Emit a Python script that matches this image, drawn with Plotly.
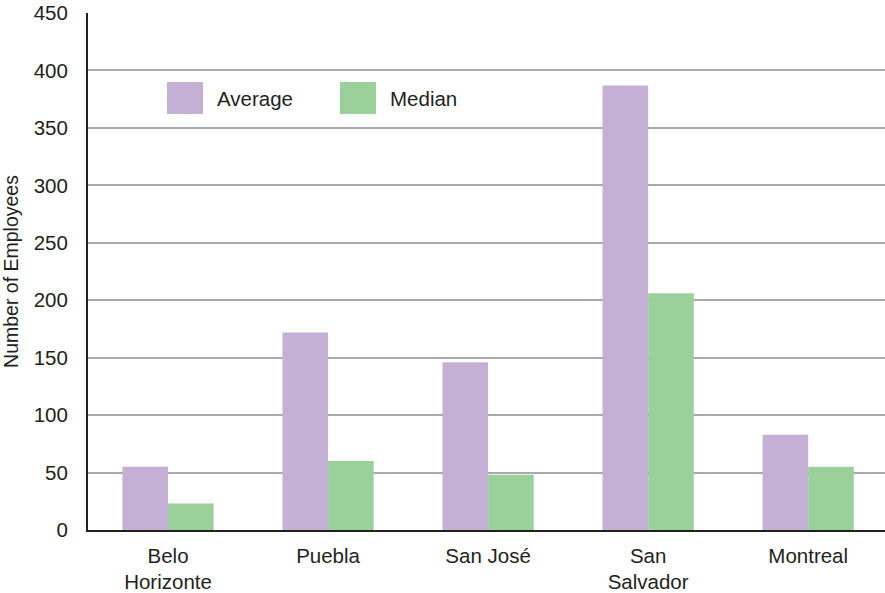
import plotly.graph_objects as go

cities = ["Belo<br>Horizonte", "Puebla", "San José", "San<br>Salvador", "Montreal"]
average = [55, 172, 146, 387, 83]
median = [23, 60, 48, 206, 55]
series_names = ["Average", "Median"]
colors = ["#c5b0d5", "#9bd09b"]
y_ticks = [0, 50, 100, 150, 200, 250, 300, 350, 400, 450]

font = dict(family="Liberation Sans, Arial, sans-serif", size=20.5, color="#231f20")

fig = go.Figure()
for name, vals, col in zip(series_names, [average, median], colors):
    fig.add_trace(go.Bar(
        x=cities, y=vals, name=name,
        marker=dict(color=col, line=dict(width=0)),
        showlegend=False,
    ))

# Large-swatch legend drawn in pixel-like paper coordinates
W, H = 885, 593
ml, mr, mt, mb = 88, 0, 13, 62.5
pw, ph = W - ml - mr, H - mt - mb

def px(x):
    return (x - ml) / pw

def py(y):
    return (H - mb - y) / ph

legend_items = [(167, 203, series_names[0], colors[0]), (340, 376, series_names[1], colors[1])]
for x0, x1, label, col in legend_items:
    fig.add_shape(type="rect", xref="paper", yref="paper",
                  x0=px(x0), x1=px(x1), y0=py(114), y1=py(82),
                  fillcolor=col, line=dict(width=0), layer="above")
    fig.add_annotation(xref="paper", yref="paper", x=px(x1 + 12), y=py(99),
                       text=label, showarrow=False, xanchor="left", yanchor="middle",
                       font=font)

fig.update_layout(
    width=W, height=H,
    margin=dict(l=ml, r=mr, t=mt, b=mb, pad=0, autoexpand=False),
    paper_bgcolor="white", plot_bgcolor="white",
    barmode="group", bargap=0.43, bargroupgap=0,
    font=font,
)
fig.update_xaxes(
    range=[-0.5, 4.48], automargin=False,
    showline=True, linecolor="#231f20", linewidth=2,
    showgrid=False, ticks="", tickfont=font, ticklabelstandoff=6,
)
fig.update_yaxes(
    range=[0, 450], tickvals=y_ticks, automargin=False,
    showline=True, linecolor="#231f20", linewidth=2,
    showgrid=True, gridcolor="#aaaaac", gridwidth=2,
    zeroline=False, ticks="", ticklabelstandoff=14, tickfont=font,
    title=dict(text="Number of Employees", font=dict(family=font["family"], size=19.5, color="#231f20"), standoff=12),
)

fig.write_html("out.html")
